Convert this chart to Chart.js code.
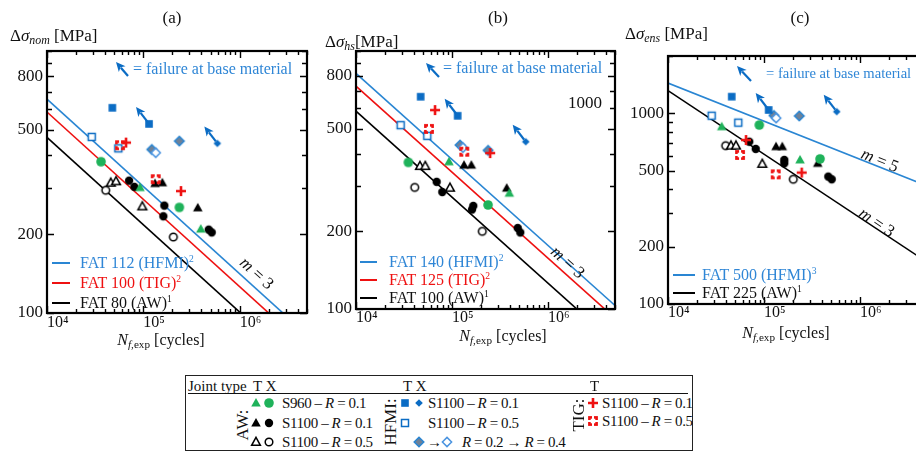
<!DOCTYPE html>
<html>
<head>
<meta charset="utf-8">
<title>S-N data of welded joints</title>
<script src="https://cdn.jsdelivr.net/npm/chart.js@4.4.1/dist/chart.umd.min.js"></script>
<style>
  html, body { margin:0; padding:0; }
  body { width:916px; height:454px; overflow:hidden; position:relative; background:#fff;
         font-family:"Liberation Serif","Times New Roman",serif; color:#111; }
  canvas.panel { position:absolute; top:0; }
  .t { position:absolute; white-space:nowrap; line-height:1; transform:translateY(-50%); }
  .c { position:absolute; white-space:nowrap; line-height:1; transform:translate(-50%,-50%); }
  .f17 { font-size:17px; } .f16 { font-size:16px; } .f15 { font-size:15px; }
  .tight { letter-spacing:-0.4px; }
  sub { font-size:0.7em; vertical-align:-0.3em; line-height:0; }
  sup { font-size:0.6em; vertical-align:0.6em; line-height:0; }
  .blue { color:#2f86d6; } .red { color:#ee1111; }
  .key { position:absolute; height:0; border-top:2px solid; }
  .mk { position:absolute; }
</style>
</head>
<body>
<canvas id="chartNom" class="panel" width="320" height="345" style="left:0px"></canvas>
<canvas id="chartHs" class="panel" width="320" height="345" style="left:310px"></canvas>
<canvas id="chartEns" class="panel" width="320" height="345" style="left:620px"></canvas>

<!-- panel titles -->
<div class="c f17" style="left:172px;top:17px">(a)</div>
<div class="c f17" style="left:498px;top:17px">(b)</div>
<div class="c f17" style="left:800px;top:17px">(c)</div>

<!-- stress axis titles -->
<div class="t f17" style="left:10px;top:35px">Δ<i>σ</i><sub><i>nom</i></sub> [MPa]</div>
<div class="t f17" style="left:325px;top:41px">Δ<i>σ</i><sub><i>hs</i></sub>[MPa]</div>
<div class="t f17" style="left:625px;top:33px">Δ<i>σ</i><sub><i>ens</i></sub> [MPa]</div>

<!-- cycle axis titles -->
<div class="c f16" style="left:161px;top:340px"><i>N</i><sub><i>f</i>,exp</sub> [cycles]</div>
<div class="c f16" style="left:503px;top:336px"><i>N</i><sub><i>f</i>,exp</sub> [cycles]</div>
<div class="c f16" style="left:786px;top:333px"><i>N</i><sub><i>f</i>,exp</sub> [cycles]</div>

<!-- failure key text -->
<div class="t f16 blue" style="left:133px;top:69px">= failure at base material</div>
<div class="t f16 blue" style="left:443px;top:68px">= failure at base material</div>
<div class="t blue" style="left:766px;top:73px;font-size:14.6px">= failure at base material</div>

<!-- design curve keys, panel (a) -->
<div class="key" style="left:52px;top:262px;width:18px;border-color:#2a86d3"></div>
<div class="t f16 blue" style="left:80px;top:263px">FAT 112 (HFMI)<sup>2</sup></div>
<div class="key" style="left:52px;top:282px;width:18px;border-color:#ee1111"></div>
<div class="t f16 red" style="left:80px;top:283px">FAT 100 (TIG)<sup>2</sup></div>
<div class="key" style="left:52px;top:302px;width:18px;border-color:#000"></div>
<div class="t f16" style="left:80px;top:303px">FAT 80 (AW)<sup>1</sup></div>

<!-- design curve keys, panel (b) -->
<div class="key" style="left:360px;top:261px;width:17px;border-color:#2a86d3"></div>
<div class="t f16 blue" style="left:389px;top:262px">FAT 140 (HFMI)<sup>2</sup></div>
<div class="key" style="left:360px;top:279px;width:17px;border-color:#ee1111"></div>
<div class="t f16 red" style="left:389px;top:280px">FAT 125 (TIG)<sup>2</sup></div>
<div class="key" style="left:360px;top:297px;width:17px;border-color:#000"></div>
<div class="t f16" style="left:389px;top:298px">FAT 100 (AW)<sup>1</sup></div>

<!-- design curve keys, panel (c) -->
<div class="key" style="left:673px;top:274px;width:22px;border-color:#2a86d3"></div>
<div class="t f16 blue" style="left:702px;top:275px">FAT 500 (HFMI)<sup>3</sup></div>
<div class="key" style="left:673px;top:292px;width:22px;border-color:#000"></div>
<div class="t f16" style="left:702px;top:293px">FAT 225 (AW)<sup>1</sup></div>

<!-- slope labels -->
<div class="c f17" style="left:257px;top:273px;transform:translate(-50%,-50%) rotate(42deg)"><i>m</i> = 3</div>
<div class="c f17" style="left:568px;top:262px;transform:translate(-50%,-50%) rotate(42deg)"><i>m</i> = 3</div>
<div class="c f17" style="left:880px;top:160px;transform:translate(-50%,-50%) rotate(22deg)"><i>m</i> = 5</div>
<div class="c f17" style="left:877px;top:222px;transform:translate(-50%,-50%) rotate(34deg)"><i>m</i> = 3</div>
<div class="c f17" style="left:585px;top:102px">1000</div>

<!-- joint type legend -->
<div style="position:absolute;left:185px;top:375px;width:506px;height:74px;border:1.5px solid #222"></div>
<div style="position:absolute;left:188px;top:392.5px;width:500px;height:0;border-top:1.5px solid #111"></div>
<div class="t f15" style="left:188px;top:386px">Joint type</div>
<div class="t f15" style="left:253px;top:386px">T X</div>
<div class="t f15" style="left:403px;top:386px">T X</div>
<div class="t f15" style="left:590px;top:386px">T</div>
<div class="c f17" style="left:242px;top:425px;transform:translate(-50%,-50%) rotate(-90deg)">AW:</div>
<div class="c f17" style="left:390px;top:422px;transform:translate(-50%,-50%) rotate(-90deg)">HFMI:</div>
<div class="c f17" style="left:578px;top:415px;transform:translate(-50%,-50%) rotate(-90deg)">TIG:</div>
<div class="t f15 tight" style="left:282px;top:403px">S960 – <i>R</i> = 0.1</div>
<div class="t f15 tight" style="left:282px;top:422.5px">S1100 – <i>R</i> = 0.1</div>
<div class="t f15 tight" style="left:282px;top:441.5px">S1100 – <i>R</i> = 0.5</div>
<div class="t f15 tight" style="left:428px;top:403px">S1100 – <i>R</i> = 0.1</div>
<div class="t f15 tight" style="left:428px;top:422.5px">S1100 – <i>R</i> = 0.5</div>
<div class="t f15" style="left:427px;top:441.5px">→</div>
<div class="t f15 tight" style="left:462px;top:441.5px"><i>R</i> = 0.2 → <i>R</i> = 0.4</div>
<div class="t f15 tight" style="left:602px;top:403px">S1100 – <i>R</i> = 0.1</div>
<div class="t f15 tight" style="left:602px;top:421px">S1100 – <i>R</i> = 0.5</div>

<script>
// ---------- axis ticks ----------
const cycleMin = 1e4, cycleMax = 5e6;
const cycleTickMantissas = [1, 2, 3, 4, 5, 6, 7, 8, 9];
const cycleTickDecades = [1e4, 1e5, 1e6];
const cycleLabelValues = [1e4, 1e5, 1e6];
const cycleLabelTexts = ['10⁴', '10⁵', '10⁶'];
const stressTicksAB = [100, 200, 300, 400, 500, 600, 700, 800, 900, 1000];
const stressLabelsAB = [100, 200, 500, 800];
const stressTicksC = [100, 200, 300, 400, 500, 600, 700, 800, 900, 1000, 2000];
const stressLabelsC = [100, 200, 500, 1000];

// ---------- design curves (FAT class at 2e6 cycles, slope m) ----------
const fatNom = [112, 100, 80];
const fatHs = [140, 125, 100];
const fatEns = [500, 225];
const slopeEns = [5, 3];

// ---------- (a) nominal stress [N, MPa] ----------
const nomAwS960T = [[92400, 301], [394500, 209]];
const nomAwS960X = [[36400, 378], [236500, 253]];
const nomAwS1100R01T = [[132200, 312], [157500, 314], [367300, 252]];
const nomAwS1100R01X = [[71100, 320], [80700, 303], [165200, 257], [161400, 234], [477600, 208], [513000, 203]];
const nomAwS1100R05T = [[45900, 314], [52100, 318], [97700, 255]];
const nomAwS1100R05X = [[40700, 294], [204900, 195]];
const nomHfmiR01T = [[47650, 607], [114600, 527]];
const nomHfmiR01X = [[586600, 444]];
const nomHfmiR05T = [[29100, 470], [55000, 425]];
const nomHfmiR02X = [[122300, 421], [236500, 453]];
const nomHfmiR04X = [[134500, 409]];
const nomTigR01T = [[66100, 447], [246000, 292]];
const nomTigR05T = [[57300, 437], [134500, 324]];

// ---------- (b) hot-spot stress [N, MPa] ----------
const hsAwS960T = [[93100, 372], [396000, 281]];
const hsAwS960X = [[35100, 370], [237500, 253]];
const hsAwS1100R01T = [[133500, 361], [159100, 361], [371800, 294]];
const hsAwS1100R01X = [[69300, 311], [79300, 284], [161800, 243], [166900, 251], [484200, 206], [515500, 198]];
const hsAwS1100R05T = [[46400, 358], [52700, 358], [95400, 295]];
const hsAwS1100R05X = [[40900, 296], [207000, 200]];
const hsHfmiR01T = [[47200, 665], [114700, 561]];
const hsHfmiR01X = [[586600, 445]];
const hsHfmiR05T = [[29200, 516], [55300, 469]];
const hsHfmiR02X = [[121300, 432], [238000, 412]];
const hsHfmiR04X = [[130300, 422]];
const hsTigR01T = [[66600, 590], [250000, 402]];
const hsTigR05T = [[57600, 499], [134400, 407]];

// ---------- (c) effective notch stress [N, MPa] ----------
const ensAwS960T = [[36300, 851], [237500, 570]];
const ensAwS960X = [[89400, 869], [383800, 577]];
const ensAwS1100R01T = [[133500, 669], [155300, 669], [363100, 547]];
const ensAwS1100R01X = [[70300, 710], [82000, 651], [162900, 570], [162900, 547], [468100, 466], [508300, 451]];
const ensAwS1100R05T = [[45300, 677], [51100, 677], [96100, 543]];
const ensAwS1100R05X = [[39900, 677], [202200, 451]];
const ensHfmiR01T = [[46100, 1224], [112000, 1042]];
const ensHfmiR01X = [[573000, 1021]];
const ensHfmiR05T = [[28500, 972], [54000, 894]];
const ensHfmiR02X = [[127000, 975], [233500, 969]];
const ensHfmiR04X = [[134000, 945]];
const ensTigR01T = [[65000, 725], [247300, 489]];
const ensTigR05T = [[56300, 605], [132500, 479]];

// ---------- colours ----------
const BLUE_MARK = '#0b6cc4', BLUE_LINE = '#2a86d3', BLUE_LIGHT = '#4b94e0';
const RED = '#ee1111', GREEN = '#1fb25a', GRAY = '#6f8197', BLACK = '#000';

Chart.defaults.font.family = '"Liberation Serif", "Times New Roman", serif';
Chart.defaults.color = '#111';

// ---------- marker glyphs ----------
function makeMarker(kind) {
  const S = 16, c = document.createElement('canvas');
  c.width = S; c.height = S;
  const g = c.getContext('2d'), m = S / 2;
  const tri = r => { g.beginPath(); g.moveTo(m, m - r); g.lineTo(m + r * 0.95, m + r * 0.72); g.lineTo(m - r * 0.95, m + r * 0.72); g.closePath(); };
  const dia = r => { g.beginPath(); g.moveTo(m, m - r); g.lineTo(m + r, m); g.lineTo(m, m + r); g.lineTo(m - r, m); g.closePath(); };
  const circ = r => { g.beginPath(); g.arc(m, m, r, 0, Math.PI * 2); };
  switch (kind) {
    case 'triG': tri(5); g.fillStyle = GREEN; g.fill(); break;
    case 'cirG': circ(4.8); g.fillStyle = GREEN; g.fill(); break;
    case 'triK': tri(5); g.fillStyle = BLACK; g.fill(); break;
    case 'cirK': circ(4.2); g.fillStyle = BLACK; g.fill(); break;
    case 'triO': tri(4.6); g.fillStyle = '#fff'; g.fill(); g.lineWidth = 1.5; g.strokeStyle = BLACK; g.stroke(); break;
    case 'cirO': circ(3.8); g.fillStyle = '#fff'; g.fill(); g.lineWidth = 1.5; g.strokeStyle = BLACK; g.stroke(); break;
    case 'sqB': g.fillStyle = BLUE_MARK; g.fillRect(m - 3.8, m - 3.8, 7.6, 7.6); break;
    case 'sqO': g.fillStyle = '#fff'; g.fillRect(m - 3.5, m - 3.5, 7, 7); g.lineWidth = 1.5; g.strokeStyle = BLUE_MARK; g.strokeRect(m - 3.5, m - 3.5, 7, 7); break;
    case 'dmB': dia(3.8); g.fillStyle = BLUE_MARK; g.fill(); break;
    case 'dmGray': dia(4.8); g.fillStyle = GRAY; g.fill(); g.lineWidth = 1.5; g.strokeStyle = BLUE_LINE; g.stroke(); break;
    case 'dmO': dia(4.6); g.fillStyle = '#fff'; g.fill(); g.lineWidth = 1.5; g.strokeStyle = BLUE_LIGHT; g.stroke(); break;
    case 'crossR':
      g.strokeStyle = RED; g.lineWidth = 2.6; g.beginPath();
      g.moveTo(m - 5, m); g.lineTo(m + 5, m); g.moveTo(m, m - 5); g.lineTo(m, m + 5); g.stroke(); break;
    case 'sqDotR':
      g.strokeStyle = RED; g.lineWidth = 2.6; g.strokeRect(m - 3.6, m - 3.6, 7.2, 7.2);
      g.clearRect(m - 0.9, 0, 1.8, S); g.clearRect(0, m - 0.9, S, 1.8); break;
  }
  return c;
}

// ---------- arrow for base-material failures ----------
function drawArrow(ctx, x0, y0, x1, y1) {
  const ang = Math.atan2(y1 - y0, x1 - x0), hl = 9.5, hw = 4.4;
  const cs = Math.cos(ang), sn = Math.sin(ang);
  const bx = x1 - hl * cs, by = y1 - hl * sn;
  ctx.lineWidth = 2.2;
  ctx.beginPath(); ctx.moveTo(x0, y0); ctx.lineTo(bx + 2 * cs, by + 2 * sn); ctx.stroke();
  ctx.beginPath(); ctx.moveTo(x1, y1);
  ctx.lineTo(bx + hw * sn, by - hw * cs);
  ctx.lineTo(bx + 2.5 * cs, by + 2.5 * sn);
  ctx.lineTo(bx - hw * sn, by + hw * cs);
  ctx.closePath(); ctx.fill();
}

const failurePlugin = {
  id: 'failure',
  afterDatasetsDraw(chart, args, opts) {
    const ctx = chart.ctx, a = chart.chartArea;
    ctx.save();
    ctx.strokeStyle = BLUE_MARK; ctx.fillStyle = BLUE_MARK;
    chart.data.datasets.forEach((ds, i) => {
      if (!ds.failAt) return;
      const meta = chart.getDatasetMeta(i);
      ds.failAt.forEach(k => {
        const p = meta.data[k];
        drawArrow(ctx, p.x - 1.5, p.y - 2, p.x - 13, p.y - 17);
      });
    });
    if (opts.key) {
      const [hx, hy, tx, ty] = opts.key;
      drawArrow(ctx, a.left + tx, a.top + ty, a.left + hx, a.top + hy);
    }
    ctx.restore();
  }
};

// ---------- boxed frame with inward ticks on all four sides ----------
const framePlugin = {
  id: 'frame',
  afterDatasetsDraw(chart) {
    const { ctx, chartArea: a, scales: { x, y } } = chart;
    ctx.save();
    ctx.strokeStyle = '#000'; ctx.lineWidth = 1.4;
    ctx.beginPath();
    y.ticks.forEach(t => {
      const py = Math.round(y.getPixelForValue(t.value)) + 0.5;
      const len = t.label ? 7 : 5;
      ctx.moveTo(a.left, py); ctx.lineTo(a.left + len, py);
      ctx.moveTo(a.right, py); ctx.lineTo(a.right - len, py);
    });
    x.ticks.forEach(t => {
      const px = Math.round(x.getPixelForValue(t.value)) + 0.5;
      const len = t.label ? 7 : 4;
      ctx.moveTo(px, a.bottom); ctx.lineTo(px, a.bottom - len);
      ctx.moveTo(px, a.top); ctx.lineTo(px, a.top + len);
    });
    ctx.stroke();
    ctx.lineWidth = 2.2;
    ctx.strokeRect(a.left, a.top, a.right - a.left, a.bottom - a.top);
    ctx.restore();
  }
};

const markerCache = {};
const markerOf = kind => markerCache[kind] || (markerCache[kind] = makeMarker(kind));

function cycleTicks() {
  const out = [];
  cycleTickDecades.forEach(d => cycleTickMantissas.forEach(mm => {
    const v = d * mm;
    if (v <= cycleMax) out.push(v);
  }));
  return out;
}

function fatCurve(fat, m) {
  return [1e4, 1e7].map(n => ({ x: n, y: fat * Math.pow(2e6 / n, 1 / m) }));
}

function buildPanel(id, geo, yMin, yMax, yTicks, yLabels, series, curves, keyArrow) {
  const canvas = document.getElementById(id);
  const datasets = series.map(([arr, kind, failAt]) => ({
    data: arr.map(([n, s]) => ({ x: n, y: s })),
    pointStyle: markerOf(kind),
    pointRadius: 4,
    showLine: false,
    failAt: failAt
  }));
  curves.forEach(([fat, m, color]) => datasets.push({
    data: fatCurve(fat, m),
    showLine: true, pointRadius: 0, borderColor: color, borderWidth: 1.6, fill: false
  }));
  return new Chart(canvas, {
    type: 'scatter',
    data: { datasets },
    options: {
      responsive: false, animation: false, events: [],
      layout: { padding: { top: geo.top, right: canvas.width - geo.right, left: 0, bottom: 0 } },
      plugins: { legend: { display: false }, tooltip: { enabled: false }, failure: { key: keyArrow } },
      scales: {
        x: {
          type: 'logarithmic', min: cycleMin, max: cycleMax,
          grid: { display: false, drawTicks: false }, border: { display: false },
          afterFit: s => { s.height = canvas.height - geo.bottom; },
          afterBuildTicks: s => { s.ticks = cycleTicks().map(v => ({ value: v })); },
          ticks: {
            autoSkip: false, maxRotation: 0, minRotation: 0, align: 'start',
            padding: geo.xPad, color: '#111', font: { size: 16, lineHeight: 1 },
            callback: v => { const i = cycleLabelValues.indexOf(v); return i >= 0 ? cycleLabelTexts[i] : ''; }
          }
        },
        y: {
          type: 'logarithmic', min: yMin, max: yMax,
          grid: { display: false, drawTicks: false }, border: { display: false },
          afterFit: s => { s.width = geo.left; },
          afterBuildTicks: s => { s.ticks = yTicks.map(v => ({ value: v })); },
          ticks: {
            autoSkip: false, padding: 4, color: '#111', font: { size: 17, lineHeight: 1 },
            callback: v => (yLabels.includes(v) ? String(v) : '')
          }
        }
      }
    },
    plugins: [framePlugin, failurePlugin]
  });
}

buildPanel('chartNom', { left: 47, right: 307, top: 51, bottom: 313, xPad: 2 }, 100, 1000,
  stressTicksAB, stressLabelsAB,
  [[nomTigR01T, 'crossR'], [nomTigR05T, 'sqDotR'],
   [nomHfmiR01T, 'sqB', [1]], [nomHfmiR01X, 'dmB', [0]], [nomHfmiR05T, 'sqO'], [nomHfmiR04X, 'dmO'], [nomHfmiR02X, 'dmGray'],
   [nomAwS960T, 'triG'], [nomAwS960X, 'cirG'], [nomAwS1100R01T, 'triK'], [nomAwS1100R01X, 'cirK'],
   [nomAwS1100R05T, 'triO'], [nomAwS1100R05X, 'cirO']],
  [[fatNom[0], 3, BLUE_LINE], [fatNom[1], 3, RED], [fatNom[2], 3, BLACK]],
  [69, 11, 81, 25]);

buildPanel('chartHs', { left: 46, right: 305, top: 51, bottom: 309, xPad: 1 }, 100, 1000,
  stressTicksAB, stressLabelsAB,
  [[hsTigR01T, 'crossR'], [hsTigR05T, 'sqDotR'],
   [hsHfmiR01T, 'sqB', [1]], [hsHfmiR01X, 'dmB', [0]], [hsHfmiR05T, 'sqO'], [hsHfmiR04X, 'dmO'], [hsHfmiR02X, 'dmGray'],
   [hsAwS960T, 'triG'], [hsAwS960X, 'cirG'], [hsAwS1100R01T, 'triK'], [hsAwS1100R01X, 'cirK'],
   [hsAwS1100R05T, 'triO'], [hsAwS1100R05X, 'cirO']],
  [[fatHs[0], 3, BLUE_LINE], [fatHs[1], 3, RED], [fatHs[2], 3, BLACK]],
  [70, 12, 83, 26]);

buildPanel('chartEns', { left: 48, right: 307, top: 56, bottom: 304, xPad: 1 }, 100, 2000,
  stressTicksC, stressLabelsC,
  [[ensTigR01T, 'crossR'], [ensTigR05T, 'sqDotR'],
   [ensHfmiR01T, 'sqB', [1]], [ensHfmiR01X, 'dmB', [0]], [ensHfmiR05T, 'sqO'], [ensHfmiR04X, 'dmO'], [ensHfmiR02X, 'dmGray'],
   [ensAwS960T, 'triG'], [ensAwS960X, 'cirG'], [ensAwS1100R01T, 'triK'], [ensAwS1100R01X, 'cirK'],
   [ensAwS1100R05T, 'triO'], [ensAwS1100R05X, 'cirO']],
  [[fatEns[0], slopeEns[0], BLUE_LINE], [fatEns[1], slopeEns[1], BLACK]],
  [69, 10, 83, 25]);

// ---------- joint type legend glyphs ----------
function placeMarker(kind, cx, cy) {
  const c = makeMarker(kind);
  c.className = 'mk';
  c.style.left = (cx - c.width / 2) + 'px';
  c.style.top = (cy - c.height / 2) + 'px';
  document.body.appendChild(c);
}
placeMarker('triG', 256, 403); placeMarker('cirG', 269, 403);
placeMarker('triK', 256, 422.5); placeMarker('cirK', 269, 422.5);
placeMarker('triO', 256, 441.5); placeMarker('cirO', 269, 441.5);
placeMarker('sqB', 405, 403); placeMarker('dmB', 419, 403);
placeMarker('sqO', 405, 422.5);
placeMarker('dmGray', 419, 441.5); placeMarker('dmO', 447, 441.5);
placeMarker('crossR', 593, 403); placeMarker('sqDotR', 593, 421);
</script>
</body>
</html>
